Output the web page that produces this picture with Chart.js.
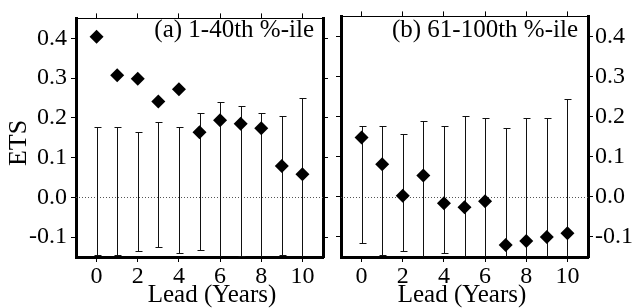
<!DOCTYPE html>
<html><head><meta charset="utf-8">
<script src="https://cdn.jsdelivr.net/npm/chart.js@4.4.1/dist/chart.umd.min.js"></script>
<style>
html,body{margin:0;padding:0;background:#fff;}
#wrap{position:relative;width:634px;height:308px;overflow:hidden;}
canvas{position:absolute;top:0;}
</style></head><body>
<div id="wrap">
<canvas id="c1" width="330" height="308" style="left:0"></canvas>
<canvas id="c2" width="304" height="308" style="left:330px"></canvas>
</div>
<script>
// ---- data ----
const leads = [0,1,2,3,4,5,6,7,8,9,10];
const etsA   = [0.404, 0.307, 0.298, 0.241, 0.272, 0.164, 0.194, 0.185, 0.174, 0.079, 0.058];
const upperA = [0.176, 0.176, 0.164, 0.189, 0.176, 0.213, 0.241, 0.230, 0.213, 0.205, 0.250];
const lowerA = [-0.144,-0.144,-0.134,-0.126,-0.140,-0.132,-0.155,-0.148,-0.155,-0.146,-0.155];
const etsB   = [0.148, 0.081, 0.003, 0.053, -0.016, -0.026, -0.011, -0.120, -0.110, -0.100, -0.091];
const upperB = [0.176, 0.176, 0.156, 0.189, 0.176, 0.202, 0.197, 0.171, 0.197, 0.197, 0.245];
const lowerB = [-0.114,-0.145,-0.136,-0.155,-0.140,-0.155,-0.155,-0.155,-0.155,-0.155,-0.155];
const yTicks = [-0.1, 0.0, 0.1, 0.2, 0.3, 0.4];
const xTicks = [0, 2, 4, 6, 8, 10];
const panelTitleA = '(a) 1-40th %-ile';
const panelTitleB = '(b) 61-100th %-ile';
const xTitle = 'Lead (Years)';
const yTitle = 'ETS';

const FONT = 'Liberation Serif, Times New Roman, serif';

function decoPlugin(up, lo, cfg){
  return {
    id:'deco',
    beforeDatasetsDraw(chart){
      const {ctx, chartArea:a, scales:{x,y}} = chart;
      ctx.save();
      ctx.beginPath(); ctx.rect(a.left, a.top, a.right-a.left, a.bottom-a.top); ctx.clip();
      ctx.strokeStyle = '#555'; ctx.lineWidth = 1; ctx.setLineDash([1,2]);
      const y0 = Math.round(y.getPixelForValue(0)) + 0.5;
      ctx.beginPath(); ctx.moveTo(a.left, y0); ctx.lineTo(a.right, y0); ctx.stroke();
      ctx.setLineDash([]);
      ctx.strokeStyle = '#111'; ctx.lineWidth = 1;
      leads.forEach((l,i)=>{
        const px = Math.round(x.getPixelForValue(l)) + 0.5;
        const pu = Math.round(y.getPixelForValue(up[i])) + 0.5;
        const pl = Math.round(y.getPixelForValue(lo[i])) + 0.5;
        ctx.beginPath();
        ctx.moveTo(px, pu); ctx.lineTo(px, pl);
        ctx.moveTo(px-3, pu); ctx.lineTo(px+4, pu);
        ctx.moveTo(px-3, pl); ctx.lineTo(px+4, pl);
        ctx.stroke();
      });
      ctx.restore();
    },
    afterDraw(chart){
      const {ctx, chartArea:a} = chart;
      ctx.save();
      ctx.fillStyle = '#000';
      ctx.font = '25px ' + FONT;
      ctx.textAlign = 'right'; ctx.textBaseline = 'alphabetic';
      ctx.fillText(cfg.title, a.right - cfg.titleRight, 37);
      ctx.textAlign = 'center';
      ctx.fillText(xTitle, cfg.xTitleX, 302);
      if (cfg.yTitle) {
        ctx.font = '26px ' + FONT;
        ctx.translate(26, 143);
        ctx.rotate(-Math.PI/2);
        ctx.fillText(yTitle, 0, 0);
      }
      ctx.restore();
    }
  };
}

function makeChart(id, ets, up, lo, cfg){
  const tickFont = {family: FONT, size: 24};
  const gridCfg = {drawOnChartArea:false, drawTicks:true, tickLength:5, color:'#000', lineWidth:1};
  return new Chart(document.getElementById(id), {
    type: 'scatter',
    data: {datasets: [{
      data: leads.map((l,i)=>({x:l, y:ets[i]})),
      pointStyle: 'rectRot', pointRadius: 7, pointHoverRadius: 7,
      backgroundColor: '#000', borderColor: '#000', borderWidth: 0
    }]},
    options: {
      responsive: false, animation: false, devicePixelRatio: 1, events: [],
      layout: {padding: 0},
      plugins: {legend: {display:false}, tooltip: {enabled:false}},
      scales: {
        x: {type:'linear', position:'bottom', min:-1, max:11,
            afterBuildTicks: s => { s.ticks = xTicks.map(v=>({value:v})); },
            afterFit: s => { s.height = 51; },
            grid: gridCfg, border: {display:true, width:3, color:'#000'},
            ticks: {font: tickFont, color:'#000', padding:0, maxRotation:0, callback: v => String(v)}},
        x2: {type:'linear', axis:'x', position:'top', min:-1, max:11,
            afterBuildTicks: s => { s.ticks = xTicks.map(v=>({value:v})); },
            afterFit: s => { s.height = 10; },
            grid: gridCfg, border: {display:true, width:1, color:'#000'},
            ticks: {display:false}},
        y: {type:'linear', position:'left', min:-0.15, max:0.45,
            afterBuildTicks: s => { s.ticks = yTicks.map(v=>({value:v})); },
            afterFit: s => { s.width = cfg.leftW; },
            grid: gridCfg, border: {display:true, width:3, color:'#000'},
            ticks: {display: cfg.leftLabels, font: tickFont, color:'#000', padding:4, callback: v => v.toFixed(1)}},
        y2: {type:'linear', axis:'y', position:'right', min:-0.15, max:0.45,
            afterBuildTicks: s => { s.ticks = yTicks.map(v=>({value:v})); },
            afterFit: s => { s.width = cfg.rightW; },
            grid: gridCfg, border: {display:true, width:3, color:'#000'},
            ticks: {display: cfg.rightLabels, font: tickFont, color:'#000', padding:2, callback: v => v.toFixed(1)}}
      }
    },
    plugins: [decoPlugin(up, lo, cfg)]
  });
}

makeChart('c1', etsA, upperA, lowerA, {leftW:76, rightW:7, leftLabels:true, rightLabels:false, title:panelTitleA, titleRight:9, xTitleX:212, yTitle:true});
makeChart('c2', etsB, upperB, lowerB, {leftW:11, rightW:46, leftLabels:false, rightLabels:true, title:panelTitleB, titleRight:10, xTitleX:132, yTitle:false});
</script>
</body></html>
